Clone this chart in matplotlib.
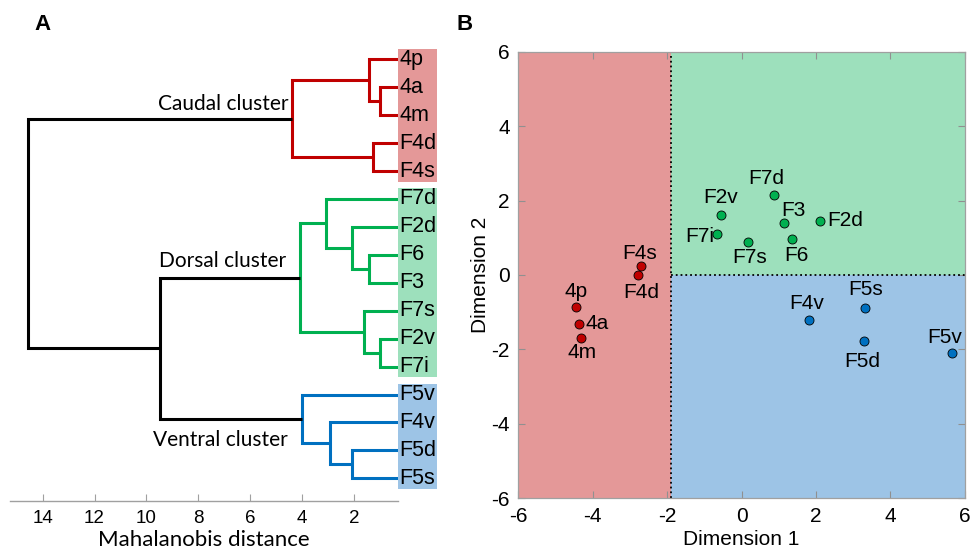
import numpy as np
import matplotlib
matplotlib.use('Agg')
import matplotlib.pyplot as plt
from matplotlib.patches import Rectangle

plt.rcParams['font.family'] = ['Liberation Sans', 'DejaVu Sans']

# ---- data: dendrogram ----
leaves = ['4p', '4a', '4m', 'F4d', 'F4s', 'F7d', 'F2d', 'F6', 'F3',
          'F7s', 'F2v', 'F7i', 'F5v', 'F4v', 'F5d', 'F5s']
leaf_group = ['c'] * 5 + ['d'] * 7 + ['v'] * 4
# merges: (child a, child b, Mahalanobis distance, group); new nodes numbered from 16
merges = [
    (1, 2, 1.00, 'c'), (0, 16, 1.43, 'c'), (3, 4, 1.26, 'c'), (17, 18, 4.38, 'c'),
    (7, 8, 1.43, 'd'), (6, 20, 2.09, 'd'), (5, 21, 3.08, 'd'),
    (10, 11, 1.00, 'd'), (9, 23, 1.61, 'd'), (22, 24, 4.08, 'd'),
    (14, 15, 2.09, 'v'), (13, 26, 2.93, 'v'), (12, 27, 4.00, 'v'),
    (25, 28, 9.48, 'k'), (19, 29, 14.58, 'k'),
]
dist_ticks = [14, 12, 10, 8, 6, 4, 2]

# ---- data: MDS scatter ----
pt_names = ['4p', '4a', '4m', 'F4s', 'F4d',
            'F2v', 'F7i', 'F7s', 'F7d', 'F3', 'F6', 'F2d',
            'F4v', 'F5s', 'F5d', 'F5v']
pt_x = [-4.45, -4.36, -4.32, -2.71, -2.78,
        -0.55, -0.65, 0.17, 0.87, 1.15, 1.37, 2.12,
        1.82, 3.32, 3.28, 5.67]
pt_y = [-0.87, -1.31, -1.68, 0.24, -0.01,
        1.62, 1.10, 0.89, 2.16, 1.40, 0.97, 1.46,
        -1.20, -0.89, -1.76, -2.10]
pt_group = ['c'] * 5 + ['d'] * 7 + ['v'] * 4
x_split = -1.9
y_split = 0.0
dim_ticks = [-6, -4, -2, 0, 2, 4, 6]

# ---- style ----
line_col = {'c': '#C00000', 'd': '#00B050', 'v': '#0070C0', 'k': 'black'}
bg_col = {'c': '#E49898', 'd': '#9DE0BC', 'v': '#9DC4E6'}
# label offsets in pixels (dx, dy up positive) and alignment
lab_off = {
    '4p': (0, 16, 'center'), '4a': (6, 0, 'left'), '4m': (1, -15, 'center'),
    'F4s': (-1, 13, 'center'), 'F4d': (3, -17, 'center'),
    'F2v': (0, 17, 'center'), 'F7i': (-3, -2, 'right'), 'F7s': (2, -16, 'center'),
    'F7d': (-8, 16, 'center'), 'F3': (9, 12, 'center'), 'F6': (4, -17, 'center'),
    'F2d': (7, 0, 'left'), 'F4v': (-3, 16, 'center'), 'F5s': (1, 19, 'center'),
    'F5d': (-1, -21, 'center'), 'F5v': (-8, 16, 'center'),
}

fig = plt.figure(figsize=(9.71, 5.51), dpi=100)
W, H = 971, 551

# ================= panel A: dendrogram =================
axA = fig.add_axes([10 / W, 1 - 500.7 / H, 388 / W, (500.7 - 45.3) / H])
pos_y = {i: i + 1 for i in range(len(leaves))}
pos_h = {i: 0.0 for i in range(len(leaves))}
node_ends = {}
for k, (a, b, h, g) in enumerate(merges):
    n = len(leaves) + k
    xa, ya, xb, yb = pos_h[a], pos_y[a], pos_h[b], pos_y[b]
    axA.plot([xa, h, h, xb], [ya, ya, yb, yb], color=line_col[g], lw=2.2,
             solid_joinstyle='miter', solid_capstyle='butt')
    pos_y[n] = (ya + yb) / 2
    pos_h[n] = h
    node_ends[n] = (h, pos_y[n])

axA.set_xlim(15.26, 0.3)
axA.set_ylim(16.8, 0.5)
axA.set_xticks(dist_ticks)
axA.set_xticklabels([str(t) for t in dist_ticks], fontsize=13.5)
axA.set_yticks([])
for s in ['left', 'top', 'right']:
    axA.spines[s].set_visible(False)
axA.spines['bottom'].set_color('#a0a0a0')
axA.spines['bottom'].set_linewidth(1.0)
axA.tick_params(axis='x', direction='in', length=5, color='#a0a0a0', pad=7)
axA.set_xlabel('Mahalanobis distance', fontsize=16, family=['Lato', 'DejaVu Sans'],
               labelpad=2)

# coloured boxes behind the leaf labels
for g in ['c', 'd', 'v']:
    idx = [i for i, gg in enumerate(leaf_group) if gg == g]
    y0 = pos_y[idx[0]] - 0.38
    y1 = pos_y[idx[-1]] + 0.38
    axA.add_patch(Rectangle((1.0, y0), 39 / 388, y1 - y0, color=bg_col[g],
                            transform=axA.get_yaxis_transform(), clip_on=False, lw=0))
for i, name in enumerate(leaves):
    axA.text(1.0 + 1 / 388, pos_y[i], name, transform=axA.get_yaxis_transform(),
             ha='left', va='center', fontsize=15.5, clip_on=False)

# cluster names, attached to the black links
cl_font = dict(fontsize=15, family=['Lato', 'DejaVu Sans'], ha='right')
hc, yc = node_ends[19]
axA.annotate('Caudal cluster', (hc, yc), xytext=(-4, 5), textcoords='offset pixels',
             va='bottom', **cl_font)
hd, yd = node_ends[25]
axA.annotate('Dorsal cluster', (hd, yd), xytext=(-14, 7), textcoords='offset pixels',
             va='bottom', **cl_font)
hv, yv = node_ends[28]
axA.annotate('Ventral cluster', (hv, yv), xytext=(-14, -11), textcoords='offset pixels',
             va='top', **cl_font)

# ================= panel B: MDS scatter =================
axB = fig.add_axes([518.3 / W, 1 - 498.3 / H, (964.7 - 518.3) / W, (498.3 - 51.7) / H])
axB.fill_between([-6, x_split], -6, 6, color=bg_col['c'], lw=0)
axB.fill_between([x_split, 6], y_split, 6, color=bg_col['d'], lw=0)
axB.fill_between([x_split, 6], -6, y_split, color=bg_col['v'], lw=0)
axB.plot([x_split, x_split], [-6, 6], ls=':', color='black', lw=1.3)
axB.plot([x_split, 6], [y_split, y_split], ls=':', color='black', lw=1.3)

for name, x, y, g in zip(pt_names, pt_x, pt_y, pt_group):
    axB.plot(x, y, 'o', ms=6.5, mfc=line_col[g], mec='black', mew=0.6, zorder=4)
    dx, dy, ha = lab_off[name]
    axB.annotate(name, (x, y), xytext=(dx, dy), textcoords='offset pixels',
                 ha=ha, va='center', fontsize=15, zorder=5)

axB.set_xlim(-6, 6)
axB.set_ylim(-6, 6)
axB.set_xticks(dim_ticks)
axB.set_yticks(dim_ticks)
axB.set_xticklabels([str(t) for t in dim_ticks], fontsize=15)
axB.set_yticklabels([str(t) for t in dim_ticks], fontsize=15)
axB.tick_params(direction='in', length=5, color='#909090', top=True, right=True, pad=6)
for s in axB.spines.values():
    s.set_color('#a0a0a0')
    s.set_linewidth(0.9)
axB.set_xlabel('Dimension 1', fontsize=15, labelpad=3)
axB.set_ylabel('Dimension 2', fontsize=15, labelpad=1)

fig.text(42 / W, 1 - 24 / H, 'A', fontsize=16, fontweight='bold', ha='center', va='center')
fig.text(465 / W, 1 - 24 / H, 'B', fontsize=16, fontweight='bold', ha='center', va='center')

fig.savefig('out.png', dpi=100)
